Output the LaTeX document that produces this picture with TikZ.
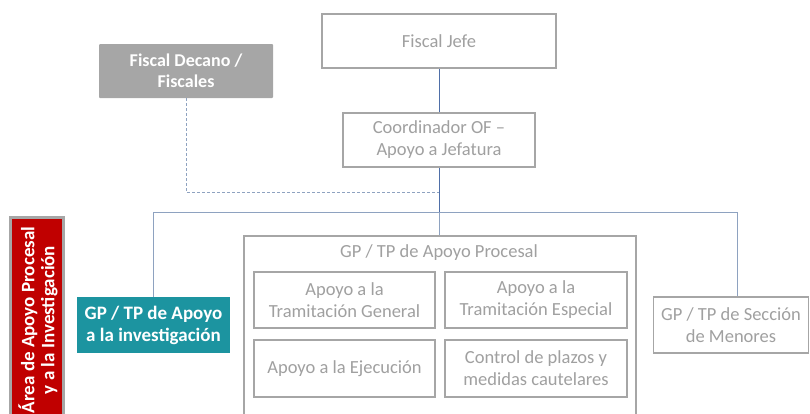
\documentclass[tikz,border=0pt]{standalone}
\usepackage{fontspec}
\setmainfont{Carlito}
\definecolor{boxline}{HTML}{A6A6A6}
\definecolor{txtgray}{HTML}{A0A0A0}
\definecolor{conn}{HTML}{8EA2C0}
\definecolor{connd}{HTML}{4F6FA8}
\definecolor{tealbox}{HTML}{1C94A0}
\definecolor{redbox}{HTML}{C00000}
\definecolor{decano}{HTML}{A6A6A6}
\begin{document}
\begin{tikzpicture}[x=1pt,y=-1pt,
  gbox/.style={draw=boxline,line width=1.6pt,fill=white,text=txtgray,align=center,
    font=\fontsize{18.5}{22}\selectfont,inner sep=0pt},
  fbox/.style={draw=none,text=white,align=center,inner sep=0pt,font=\bfseries\fontsize{19}{22}\selectfont},
  cline/.style={draw=conn,line width=0.9pt},
  dline/.style={draw=conn,line width=0.9pt,dashed,dash pattern=on 3pt off 2pt}]
\useasboundingbox (0,0) rectangle (810,413);
\clip (0,0) rectangle (810,413);
% nodes
\node[gbox,minimum width=234pt,minimum height=54pt] (jefe) at (439,41) {Fiscal Jefe};
\node[gbox,minimum width=192pt,minimum height=54pt] (coord) at (439,140) {Coordinador OF --\\Apoyo a Jefatura};
\node[fbox,fill=decano,minimum width=174pt,minimum height=54pt,rounded corners=1pt,font=\bfseries\fontsize{18}{21}\selectfont] (decano) at (186,71) {Fiscal Decano /\\Fiscales};
\coordinate (dturn) at (186,192);
\coordinate (dend) at (439,192);
\coordinate (busL) at (153,212);
\coordinate (busR) at (737,212);
\coordinate (busM) at (439,212);
% big box
\node[gbox,anchor=north west,minimum width=392pt,minimum height=200pt] (proc) at (243,235) {};
\node[text=txtgray,font=\fontsize{18.5}{22}\selectfont,inner sep=0pt] (proct) at (439,253) {GP / TP de Apoyo Procesal};
\node[gbox,minimum width=181pt,minimum height=56pt] (tg) at (344.5,300) {Apoyo a la\\Tramitación General};
\node[gbox,minimum width=182pt,minimum height=56pt] (te) at (536,300) {Apoyo a la\\Tramitación Especial};
\node[gbox,minimum width=181pt,minimum height=57pt] (ej) at (344.5,368.5) {Apoyo a la Ejecución};
\node[gbox,minimum width=182pt,minimum height=57pt] (cp) at (536,368.5) {Control de plazos y\\medidas cautelares};
\node[fbox,fill=tealbox,minimum width=153pt,minimum height=56pt] (inv) at (153.5,325) {GP / TP de Apoyo\\a la investigación};
\node[gbox,minimum width=155pt,minimum height=56pt] (men) at (731,325) {GP / TP de Sección\\de Menores};
% red side box
\fill[boxline] (9,216) rectangle (65,430);
\fill[redbox] (12,219) rectangle (62,430);
\node[fbox,rotate=90,font=\bfseries\fontsize{19}{20}\selectfont] (area) at (38,320) {Área de Apoyo Procesal\\y a la Investigación};
% connectors
\draw[cline,draw=connd] (jefe.south) -- (coord.north);
\draw[cline,draw=connd] (coord.south) -- (busM);
\draw[cline] (busM) -- (proc.north -| busM);
\draw[cline] (inv.north -| busL) -- (busL) -- (busR) -- (men.north -| busR);
\draw[dline] (decano.south) -- (dturn) -- (dend);
\end{tikzpicture}
\end{document}
